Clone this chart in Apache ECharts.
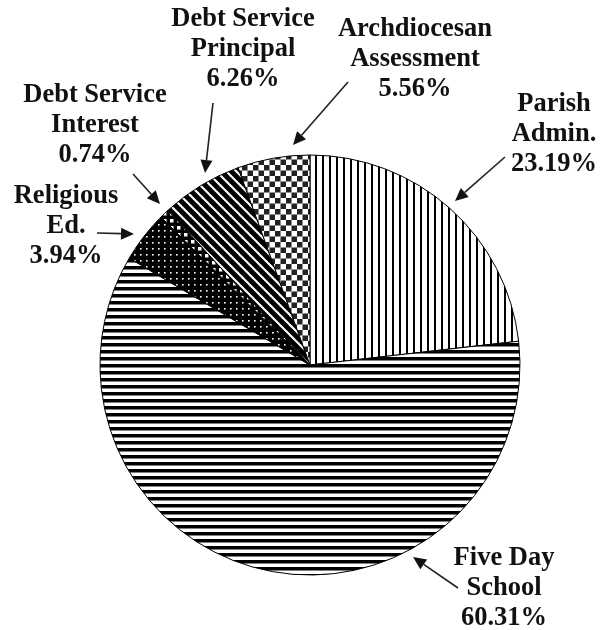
<!DOCTYPE html>
<html>
<head>
<meta charset="utf-8">
<script src="https://cdn.jsdelivr.net/npm/echarts@6/dist/echarts.min.js"></script>
<style>
html,body{margin:0;padding:0;background:#fff;}
#chart{width:612px;height:630px;}
</style>
</head>
<body>
<div id="chart"></div>
<script>
// ---- data ----
const categories = ['Parish\nAdmin.', 'Five Day\nSchool', 'Religious\nEd.', 'Debt Service\nInterest', 'Debt Service\nPrincipal', 'Archdiocesan\nAssessment'];
const shares = [23.19, 60.31, 3.94, 0.74, 6.26, 5.56];

// ---- patterns (style) ----
function tile(w, h, draw) {
  const c = document.createElement('canvas');
  c.width = w; c.height = h;
  const g = c.getContext('2d');
  g.fillStyle = '#fff'; g.fillRect(0, 0, w, h);
  draw(g, w, h);
  return { image: c, repeat: 'repeat' };
}
const patVertical = tile(7, 4, (g) => { g.fillStyle = '#000'; g.fillRect(0, 0, 2, 4); });
const patHorizontal = tile(4, 7, (g) => { g.fillStyle = '#000'; g.fillRect(0, 0, 4, 3.5); });
const patDots = tile(6, 6, (g, w, h) => { g.fillStyle = '#000'; g.fillRect(0, 0, w, h); g.fillStyle = '#fff'; g.fillRect(2, 2, 1.6, 1.6); });
const patBigDots = tile(7, 7, (g, w, h) => { g.fillStyle = '#000'; g.fillRect(0, 0, w, h); g.fillStyle = '#fff'; g.fillRect(2, 2, 3.5, 3.5); });
const patDiag = tile(10, 10, (g) => {
  g.strokeStyle = '#000'; g.lineWidth = 5;
  for (let k = -2; k <= 2; k++) {
    g.beginPath(); g.moveTo(k * 10 - 2, -2); g.lineTo(k * 10 + 12, 12); g.stroke();
  }
});
const patChecker = tile(11, 11, (g) => { g.fillStyle = '#222'; g.fillRect(0, 0, 5.5, 5.5); g.fillRect(5.5, 5.5, 5.5, 5.5); });
const patterns = [patVertical, patHorizontal, patDots, patBigDots, patDiag, patChecker];

// label centres & arrows (layout annotations)
const labelPos = [[554, 134], [504, 588], [66, 226], [95, 125], [243, 49], [415, 59]];
const arrows = [
  [[505, 157], [455, 201]],
  [[458, 588], [413, 557]],
  [[97, 233], [134, 234]],
  [[133, 174], [160, 204]],
  [[213, 103], [205, 173]],
  [[348, 82], [293, 145]]
];

function arrowGraphics() {
  const out = [];
  arrows.forEach(([a, b]) => {
    const dx = b[0] - a[0], dy = b[1] - a[1];
    const len = Math.sqrt(dx * dx + dy * dy);
    const ux = dx / len, uy = dy / len;
    const hl = 13, hw = 6;
    const bx = b[0] - ux * hl, by = b[1] - uy * hl;
    out.push({ type: 'line', shape: { x1: a[0], y1: a[1], x2: bx, y2: by }, style: { stroke: '#222', lineWidth: 1.6 }, silent: true });
    out.push({ type: 'polygon', shape: { points: [[b[0], b[1]], [bx - uy * hw, by + ux * hw], [bx + uy * hw, by - ux * hw]] }, style: { fill: '#111' }, silent: true });
  });
  return out;
}

const chart = echarts.init(document.getElementById('chart'), null, { renderer: 'canvas' });
chart.setOption({
  backgroundColor: '#fff',
  animation: false,
  series: [{
    type: 'pie',
    center: [310, 365],
    radius: 210,
    startAngle: 90,
    clockwise: true,
    avoidLabelOverlap: false,
    data: categories.map((n, i) => ({ name: n, value: shares[i], itemStyle: { color: patterns[i] } })),
    itemStyle: { borderColor: '#000', borderWidth: 1 },
    label: {
      show: true,
      formatter: (p) => p.name + '\n' + p.value.toFixed(2) + '%',
      fontFamily: '"Liberation Serif", "Times New Roman", serif',
      fontWeight: 'bold',
      fontSize: 26.5,
      lineHeight: 30,
      color: '#111',
      align: 'center'
    },
    labelLine: { show: false },
    labelLayout: (params) => {
      const p = labelPos[params.dataIndex];
      return { x: p[0], y: p[1], align: 'center', verticalAlign: 'middle' };
    },
    emphasis: { disabled: true }
  }],
  graphic: arrowGraphics()
});
</script>
</body>
</html>
